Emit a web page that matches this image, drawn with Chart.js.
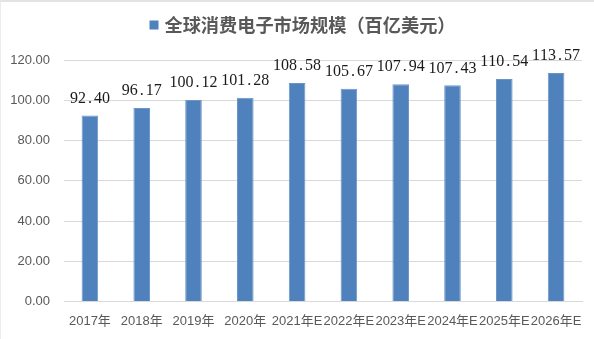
<!DOCTYPE html>
<html>
<head>
<meta charset="utf-8">
<script src="https://cdn.jsdelivr.net/npm/chart.js@4/dist/chart.umd.min.js"></script>
<style>
  html, body { margin: 0; padding: 0; background: #fff; }
  #wrap { position: relative; width: 594px; height: 339px; }
  #frame { position: absolute; left: 0; top: 0; width: 593px; height: 337px;
           border-top: 2px solid #e3e3e3; border-left: 1px solid #ececec; pointer-events: none; }
</style>
</head>
<body>
<div id="wrap">
  <canvas id="c" width="594" height="339"></canvas>
  <div id="frame"></div>
</div>
<script>
const categories = ['2017年', '2018年', '2019年', '2020年', '2021年E', '2022年E', '2023年E', '2024年E', '2025年E', '2026年E'];
const marketSize = [92.40, 96.17, 100.12, 101.28, 108.58, 105.67, 107.94, 107.43, 110.54, 113.57];
const seriesName = '全球消费电子市场规模（百亿美元）';
const yTicks = [0, 20, 40, 60, 80, 100, 120];

const sansFamily = "'Liberation Sans', 'Noto Sans CJK SC', sans-serif";
const barColor = '#4F81BD';

// Series key at the top: coloured square followed by the series name
const seriesKey = {
  id: 'seriesKey',
  afterDraw(chart) {
    const ctx = chart.ctx;
    const ds = chart.data.datasets[0];
    ctx.save();
    ctx.font = "bold 18.2px 'Noto Sans CJK SC', sans-serif";
    const textW = ctx.measureText(ds.label).width;
    const box = 9, gap = 6;
    const textCenter = chart.width / 2 + 13;
    const cy = 25;
    const boxLeft = textCenter - textW / 2 - gap - box;
    ctx.fillStyle = ds.backgroundColor;
    ctx.fillRect(boxLeft, cy - box / 2, box, box);
    ctx.fillStyle = '#595959';
    ctx.textAlign = 'center';
    ctx.textBaseline = 'middle';
    ctx.fillText(ds.label, textCenter, cy);
    ctx.restore();
  }
};

// Value labels above each bar, drawn in fixed-width cells like a half-width CJK serif face
const valueLabels = {
  id: 'valueLabels',
  afterDatasetsDraw(chart) {
    const ctx = chart.ctx;
    const meta = chart.getDatasetMeta(0);
    const values = chart.data.datasets[0].data;
    ctx.save();
    ctx.font = "16px 'Liberation Serif', 'DejaVu Serif', serif";
    ctx.fillStyle = '#1a1a1a';
    ctx.textAlign = 'center';
    ctx.textBaseline = 'middle';
    const cell = 8;
    meta.data.forEach((bar, i) => {
      const text = values[i].toFixed(2);
      const total = text.length * cell;
      let x = bar.x - total / 2 + cell / 2;
      const y = bar.y - 17;
      for (const ch of text) {
        ctx.fillText(ch, x, y);
        x += cell;
      }
    });
    ctx.restore();
  }
};

new Chart(document.getElementById('c'), {
  type: 'bar',
  data: {
    labels: categories,
    datasets: [{
      label: seriesName,
      data: marketSize,
      backgroundColor: barColor,
      borderColor: '#6b95c8',
      borderWidth: 1,
      barPercentage: 0.64,
      categoryPercentage: 0.5
    }]
  },
  options: {
    responsive: false,
    animation: false,
    layout: { padding: { left: 0, right: 12, top: 60, bottom: 0 } },
    plugins: {
      legend: { display: false },
      tooltip: { enabled: false }
    },
    scales: {
      x: {
        grid: { display: false, drawTicks: false },
        border: { display: true, color: '#d9d9d9', width: 1 },
        ticks: {
          autoSkip: false,
          maxRotation: 0,
          minRotation: 0,
          padding: 12,
          color: '#595959',
          font: { family: sansFamily, size: 13 }
        },
        afterFit(scale) { scale.height = 37.5; }
      },
      y: {
        min: yTicks[0],
        max: yTicks[yTicks.length - 1],
        afterBuildTicks(scale) { scale.ticks = yTicks.map(v => ({ value: v })); },
        grid: { color: '#d9d9d9', lineWidth: 1, drawTicks: false },
        border: { display: false },
        ticks: {
          padding: 14,
          color: '#595959',
          font: { family: sansFamily, size: 13 },
          callback: v => Number(v).toFixed(2)
        },
        afterFit(scale) { scale.width = 64; }
      }
    }
  },
  plugins: [valueLabels, seriesKey]
});
</script>
</body>
</html>
